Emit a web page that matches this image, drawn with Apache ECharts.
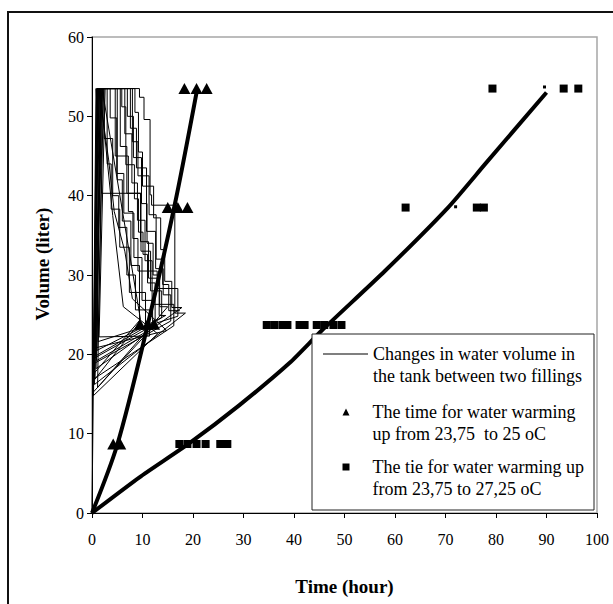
<!DOCTYPE html>
<html>
<head>
<meta charset="utf-8">
<script src="https://cdn.jsdelivr.net/npm/echarts@6/dist/echarts.min.js"></script>
<style>
html,body{margin:0;padding:0;background:#fff;}
#chart{width:613px;height:604px;}
</style>
</head>
<body>
<div id="chart"></div>
<script>
// ---- data ----
const xTicks = [0, 10, 20, 30, 40, 50, 60, 70, 80, 90, 100];
const yTicks = [0, 10, 20, 30, 40, 50, 60];

// Water volume in the tank between two fillings (time h, volume l), one cycle per array
const cycle01 = [[0,0],[0.9,53.5],[9.4,53.5],[9.4,52.4],[10.3,52.4],[10.3,49.6],[11.5,49.6],[11.5,40.1],[11.8,40.1],[11.8,38.8],[16.4,38.8],[16.4,25.2],[18.5,25.2]];
const cycle02 = [[0.5,16.2],[1.1,53.5],[7.6,53.5],[7.6,48.5],[8.8,48.5],[8.8,43.5],[10.8,43.5],[10.8,35.5],[12.6,35.5],[12.6,30.8],[14.1,30.8],[14.1,27.5],[15.6,27.5],[15.6,24.2]];
const cycle03 = [[0.3,18.8],[1.4,53.5],[5.6,53.5],[5.6,46.2],[6.9,46.2],[6.9,40.3],[9.6,40.3],[9.6,34.2],[11.2,34.2],[11.2,29.6],[13.3,29.6],[13.3,24.9],[14.6,24.9]];
const cycle04 = [[1.0,20.5],[1.7,53.5],[3.6,53.5],[3.6,49.8],[4.9,49.8],[4.9,42.8],[6.3,42.8],[6.3,37.8],[8.3,37.8],[8.3,32.2],[9.9,32.2],[9.9,26.8],[12.0,26.8],[12.0,23.4]];
const cycle05 = [[0.2,15.2],[0.8,53.5],[1.9,40.3],[9.7,40.3],[9.7,33.0],[11.6,33.0],[11.6,28.0],[13.8,28.0],[13.8,24.6]];
const cycle06 = [[0.7,19.8],[2.0,53.5],[9.6,24.4]];
const cycle07 = [[0.4,17.6],[1.2,53.5],[4.6,53.5],[4.6,45.0],[7.2,45.0],[7.2,38.0],[8.1,38.0],[8.1,34.6],[9.1,34.6],[9.1,30.5],[12.9,30.5],[12.9,28.3],[17.0,28.3],[17.0,24.8]];
const cycle08 = [[1.2,21.6],[2.3,53.5],[6.5,53.5],[6.5,47.8],[7.9,47.8],[7.9,41.6],[9.0,41.6],[9.0,36.9],[10.5,36.9],[10.5,31.8],[11.9,31.8],[11.9,26.3],[16.2,26.3],[16.2,23.6]];
const cycle09 = [[0.6,17.0],[1.5,53.5],[3.0,53.5],[3.0,44.0],[3.8,44.0],[3.8,38.3],[5.5,38.3],[5.5,33.5],[7.4,33.5],[7.4,27.8],[10.6,27.8],[10.6,22.8]];
const cycle10 = [[0.9,19.2],[1.6,53.5],[4.1,37.5],[6.2,26.0],[13.0,22.6]];
const cycle11 = [[0.3,14.8],[1.0,53.5],[2.4,53.5],[2.4,47.2],[4.1,47.2],[4.1,40.0],[5.3,40.0],[5.3,36.0],[6.9,36.0],[6.9,30.0],[8.6,30.0],[8.6,25.6],[11.4,25.6],[11.4,22.3]];
const cycle12 = [[1.4,22.2],[2.6,53.5],[8.5,53.5],[8.5,50.5],[9.2,50.5],[9.2,45.5],[10.0,45.5],[10.0,41.2],[12.2,41.2],[12.2,37.2],[13.6,37.2],[13.6,33.2],[14.4,33.2],[14.4,29.2],[15.8,29.2],[15.8,25.9],[17.8,25.9]];
const cycle13 = [[0.8,18.2],[1.9,53.5],[5.0,53.5],[5.0,42.0],[6.0,42.0],[6.0,36.8],[7.7,36.8],[7.7,31.2],[9.4,31.2],[9.4,24.0]];
const cycle14 = [[0.5,16.8],[1.3,53.5],[3.3,44.5],[4.4,38.0],[6.5,33.0],[8.0,27.0],[14.8,23.0]];
const cycle15 = [[0.6,20.8],[1.8,53.5],[7.0,53.5],[7.0,50.0],[8.2,50.0],[8.2,44.8],[9.8,44.8],[9.8,39.0],[10.9,39.0],[10.9,34.0],[12.1,34.0],[12.1,30.0],[13.4,30.0],[13.4,26.0],[15.0,26.0]];
const cycle16 = [[1.1,15.8],[2.1,53.5],[5.9,53.5],[5.9,51.2],[6.7,51.2],[6.7,43.9],[8.4,43.9],[8.4,39.6],[9.2,39.6],[9.2,35.4],[10.1,35.4],[10.1,32.6],[11.0,32.6],[11.0,29.0],[12.5,29.0],[12.5,23.8]];
const cycle17 = [[0.4,19.5],[1.1,53.5],[8.0,53.5],[8.0,46.8],[9.1,46.8],[9.1,42.5],[11.3,42.5],[11.3,37.6],[12.7,37.6],[12.7,32.0],[14.0,32.0],[14.0,28.8],[15.2,28.8],[15.2,25.5],[17.4,25.5]];

// Warming time 23.75 -> 25 oC (triangles) and its trend line
const triTime = [4.2, 5.6, 9.5, 11.0, 12.3, 15.0, 17.0, 18.9, 18.3, 20.7, 22.7];
const triVol  = [8.7, 8.7, 23.8, 23.8, 23.8, 38.5, 38.5, 38.5, 53.5, 53.5, 53.5];
const triLineTime = [0, 5.0, 10.8, 16.3, 20.7];
const triLineVol  = [0, 8.6, 23.1, 38.6, 53.0];

// Warming time 23.75 -> 27.25 oC (squares) and its trend line
const sqTime = [17.3, 18.9, 20.7, 22.5, 25.4, 26.8, 34.6, 36.1, 37.7, 38.7, 41.1, 42.1, 44.5, 46.0, 47.8, 49.4, 62.1, 76.2, 77.6, 79.3, 93.4, 96.3];
const sqVol  = [8.7, 8.7, 8.7, 8.7, 8.7, 8.7, 23.7, 23.7, 23.7, 23.7, 23.7, 23.7, 23.7, 23.7, 23.7, 23.7, 38.5, 38.5, 38.5, 53.5, 53.5, 53.5];
const sqSmallTime = [72.0, 89.6];
const sqSmallVol  = [38.6, 53.7];
const sqLineTime = [0, 9.4, 19.3, 29.2, 39.1, 45.5, 58.0, 70.5, 78.0, 90.0];
const sqLineVol  = [0, 4.5, 8.8, 13.6, 18.9, 23.0, 30.5, 38.5, 44.1, 53.0];

const nameCycles = 'Changes in water volume in\nthe tank between two fillings';
const nameTri = 'The time for water warming\nup from 23,75  to 25 oC';
const nameSq = 'The tie for water warming up\nfrom 23,75 to 27,25 oC';

// ---- build ----
const zip = (a, b) => a.map((v, i) => [v, b[i]]);
const cycles = [cycle01, cycle02, cycle03, cycle04, cycle05, cycle06, cycle07, cycle08, cycle09, cycle10, cycle11, cycle12, cycle13, cycle14, cycle15, cycle16, cycle17];
const cycleData = [].concat(...cycles);

const FONT = 'Liberation Serif';
const chart = echarts.init(document.getElementById('chart'), null, {renderer: 'svg'});

const tickRich = {t: {fontFamily: FONT, fontSize: 16, color: '#000'}};
const legendRich = {g: {width: 18, fontFamily: FONT, fontSize: 18, lineHeight: 22}};
const legendText = {fontFamily: FONT, fontSize: 18, lineHeight: 22, color: '#000', rich: legendRich};
const legendBase = {orient: 'vertical', padding: 0, itemGap: 0, selectedMode: false, textStyle: legendText};
// the icon sits on the first text line: prepend an empty line
const twoLine = n => '\n' + n;
const twoLineShift = n => '\n' + n.split('\n').map(s => '{g|}' + s).join('\n');

chart.setOption({
  animation: false,
  backgroundColor: '#fff',
  textStyle: {fontFamily: FONT},
  grid: {left: 92, right: 16, top: 37, bottom: 91, show: true, borderColor: '#a6a6a6', borderWidth: 1.5, backgroundColor: 'transparent'},
  xAxis: {
    type: 'value', min: 0, max: 100, interval: 10,
    name: 'Time (hour)', nameLocation: 'middle', nameGap: 64,
    nameTextStyle: {fontFamily: FONT, fontSize: 19, fontWeight: 'bold', color: '#000'},
    axisLine: {show: true, onZero: false, lineStyle: {color: '#000', width: 1}},
    axisTick: {show: true, inside: false, length: 5, lineStyle: {color: '#000'}},
    axisLabel: {fontFamily: FONT, fontSize: 16, color: '#000', margin: 18, rich: tickRich,
      formatter: v => xTicks.includes(v) ? '{t|' + v + '}' : ''},
    splitLine: {show: false}
  },
  yAxis: {
    type: 'value', min: 0, max: 60, interval: 10,
    name: 'Volume (liter)', nameLocation: 'middle', nameGap: 40, nameRotate: 90,
    nameTextStyle: {fontFamily: FONT, fontSize: 19, fontWeight: 'bold', color: '#000', padding: [0, 0, 0, 22]},
    axisLine: {show: true, onZero: false, lineStyle: {color: '#000', width: 1}},
    axisTick: {show: true, inside: false, length: 5, lineStyle: {color: '#000'}},
    axisLabel: {fontFamily: FONT, fontSize: 16, color: '#000', margin: 8, rich: tickRich,
      formatter: v => yTicks.includes(v) ? '{t|' + v + '}' : ''},
    splitLine: {show: false}
  },
  legend: [
    Object.assign({}, legendBase, {left: 323, top: 321, itemWidth: 45, itemHeight: 1.2, formatter: twoLine,
      data: [{name: nameCycles, icon: 'rect'}]}),
    Object.assign({}, legendBase, {left: 342.5, top: 379, itemWidth: 7, itemHeight: 7, formatter: twoLineShift,
      data: [nameTri]}),
    Object.assign({}, legendBase, {left: 342.5, top: 434, itemWidth: 7, itemHeight: 7, formatter: twoLineShift,
      data: [nameSq]})
  ],
  graphic: [
    {type: 'rect', z: 0, silent: true, shape: {x: 8, y: 12, width: 700, height: 700},
     style: {fill: 'none', stroke: '#111', lineWidth: 2}},
    {type: 'rect', z: 3, silent: true, shape: {x: 312, y: 334, width: 282, height: 176},
     style: {fill: '#fff', stroke: '#222', lineWidth: 1}}
  ],
  series: [
    {name: nameCycles, type: 'line', data: cycleData, symbol: 'none', z: 2,
     lineStyle: {color: '#000', width: 1}, itemStyle: {color: '#000'}},
    {name: 'triTrend', type: 'line', data: zip(triLineTime, triLineVol), symbol: 'none', smooth: 0.3, z: 2,
     lineStyle: {color: '#000', width: 4}},
    {name: 'sqTrend', type: 'line', data: zip(sqLineTime, sqLineVol), symbol: 'none', smooth: 0.2, z: 2,
     lineStyle: {color: '#000', width: 4}},
    {name: nameTri, type: 'scatter', data: zip(triTime, triVol), symbol: 'triangle', symbolSize: [12, 11], z: 2,
     itemStyle: {color: '#000', opacity: 1}},
    {name: nameSq, type: 'scatter', data: zip(sqTime, sqVol), symbol: 'rect', symbolSize: 8, z: 2,
     itemStyle: {color: '#000', opacity: 1}},
    {name: 'sqSmall', type: 'scatter', data: zip(sqSmallTime, sqSmallVol), symbol: 'rect', symbolSize: 3, z: 2,
     itemStyle: {color: '#000', opacity: 1}}
  ]
});
</script>
</body>
</html>
